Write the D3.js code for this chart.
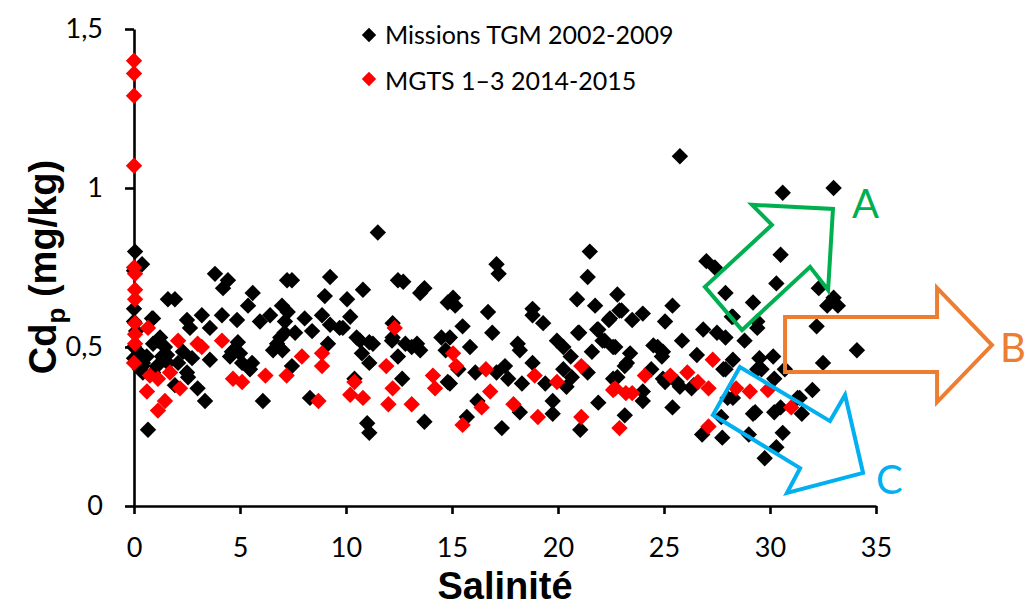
<!DOCTYPE html>
<html><head><meta charset="utf-8">
<script src="https://cdn.jsdelivr.net/npm/d3@7"></script>
<style>
html,body{margin:0;padding:0;background:#fff;}
svg{display:block;}
</style></head>
<body>
<svg id="chart" width="1032" height="606"></svg>
<script>
// ---- data ----
const xTicks = [0, 5, 10, 15, 20, 25, 30, 35];
const yTicks = [0, 0.5, 1, 1.5];
const yTickLabels = ["0", "0,5", "1", "1,5"];
const seriesNames = ["Missions TGM 2002-2009", "MGTS 1\u20133 2014-2015"];

// Missions TGM 2002-2009 : [salinité, Cdp]
const tgm = [
[0.05,0.80],[0.38,0.76],[0,0.74],[0,0.62],[0,0.58],[0,0.50],[0.28,0.48],[0.42,0.45],[0.28,0.43],[0,0.465],[0.1,0.55],[0.42,0.42],[0.6,0.47],[0.9,0.59],
[3.82,0.73],[4.43,0.71],[4.2,0.685],[1.6,0.65],[1.93,0.65],[0.85,0.59],[2.5,0.585],[3.2,0.60],[4.15,0.60],[5.6,0.67],[5.38,0.63],[6.98,0.63],[7.22,0.71],[4.86,0.585],[5.94,0.58],[6.42,0.60],[7.12,0.58],[2.64,0.56],[3.58,0.56],[1.23,0.53],[0.9,0.51],[1.46,0.50],[2.31,0.485],[2.74,0.465],[3.58,0.46],[4.62,0.485],[4.9,0.515],[5.1,0.45],[5.57,0.45],[6.75,0.51],[6.56,0.49],[1.08,0.44],[1.6,0.45],[2.5,0.42],[0.9,0.42],[3.35,0.33],[6.08,0.33],[0.66,0.24],[2.55,0.405],[1.93,0.38],[3.0,0.37],
[1.13,0.52],[1.32,0.47],[2.08,0.45],[1.56,0.475],[0.4,0.44],[4.53,0.47],[5.47,0.43],[5.0,0.48],[6.9,0.53],[7.0,0.49],
[11.5,0.86],[7.45,0.71],[9.25,0.72],[10.8,0.68],[12.45,0.71],[12.7,0.705],[13.7,0.685],[13.5,0.67],[14.8,0.64],[9.0,0.66],[10.05,0.65],[7.25,0.61],[8.05,0.59],[8.87,0.60],[10.2,0.595],[7.1,0.545],[7.6,0.545],[8.4,0.55],[9.25,0.57],[9.85,0.56],[10.5,0.53],[11.1,0.515],[9.15,0.51],[12.2,0.575],[12.2,0.53],[12.8,0.51],[13.35,0.51],[13.5,0.49],[14.5,0.53],[14.7,0.49],[10.75,0.48],[11.1,0.45],[12.45,0.47],[7.45,0.44],[10.4,0.40],[12.65,0.40],[14.8,0.39],[8.3,0.34],[11.0,0.26],[11.1,0.23],[13.7,0.265],
[9.7,0.56],[10.66,0.52],[11.27,0.51],[12.17,0.52],[13.1,0.50],
[17.1,0.76],[17.2,0.73],[21.5,0.80],[21.4,0.72],[15.05,0.655],[15.15,0.63],[18.8,0.62],[18.8,0.60],[19.3,0.575],[16.7,0.61],[20.9,0.65],[21.75,0.63],[22.45,0.59],[22.8,0.665],[15.5,0.565],[16.9,0.545],[20.95,0.545],[21.85,0.555],[22.1,0.52],[15.85,0.50],[18.1,0.51],[18.2,0.49],[19.95,0.52],[20.25,0.50],[20.6,0.47],[21.6,0.485],[22.6,0.50],[14.9,0.53],[16.1,0.42],[17.5,0.44],[17.65,0.40],[17.1,0.42],[18.3,0.385],[18.8,0.45],[19.4,0.385],[20.25,0.43],[20.65,0.405],[20.4,0.375],[21.4,0.42],[14.9,0.385],[16.2,0.33],[18.2,0.295],[19.75,0.33],[19.75,0.29],[21.9,0.325],[22.8,0.405],[17.35,0.245],[15.7,0.28],[21.05,0.24],[15.3,0.43],
[25.75,1.10],[30.6,0.985],[27.0,0.77],[27.4,0.75],[30.5,0.79],[27.9,0.67],[30.3,0.70],[29.2,0.64],[28.25,0.595],[29.4,0.58],[29.4,0.56],[28.8,0.52],[23.0,0.615],[24.0,0.605],[23.5,0.585],[25.4,0.63],[25.05,0.58],[25.85,0.52],[26.85,0.555],[27.5,0.545],[27.9,0.53],[22.7,0.50],[23.4,0.48],[24.5,0.505],[24.95,0.485],[23.15,0.44],[24.4,0.43],[26.55,0.475],[28.25,0.46],[27.9,0.43],[29.5,0.465],[30.15,0.47],[29.4,0.43],[24.95,0.40],[25.6,0.39],[26.3,0.37],[24.0,0.33],[25.4,0.31],[23.15,0.285],[28.25,0.34],[29.3,0.295],[30.2,0.295],[31.4,0.34],[31.5,0.29],[26.8,0.225],[27.75,0.215],[29.0,0.225],[30.6,0.23],[30.3,0.185],[29.75,0.15],
[33.0,1.00],[32.3,0.685],[33.0,0.655],[32.7,0.63],[33.2,0.63],[32.2,0.565],[34.1,0.49],[32.5,0.45],[32.0,0.365],[31.3,0.34],[30.7,0.43],[30.2,0.40],[29.6,0.43],[27.8,0.43],[23.25,0.45],[24.7,0.50],[24.9,0.47],[22.6,0.40],[24.0,0.36],[25.05,0.39],[25.75,0.375],[26.4,0.38],[28.0,0.34],[27.7,0.28],[29.2,0.29],[30.5,0.31],[28.2,0.595],[22.4,0.585],[22.9,0.615],[22.2,0.52],[21.9,0.555],[21.0,0.545]
];

// MGTS 1–3 2014-2015 : [salinité, Cdp]
const mgts = [
[0,1.40],[0,1.36],[0,1.29],[0,1.07],[0,0.75],[0.05,0.73],[0.05,0.68],[0.05,0.65],[0.05,0.575],[0.66,0.56],[0.05,0.54],[0.05,0.51],[0,0.45],[0.75,0.41],[1.13,0.40],[0.61,0.36],[1.46,0.33],[1.13,0.30],[1.7,0.42],[2.08,0.52],[2.17,0.37],[3.0,0.51],[3.2,0.50],[4.15,0.52],[4.67,0.40],[5.1,0.39],[6.2,0.41],[7.2,0.41],
[7.92,0.47],[8.87,0.48],[8.87,0.44],[12.3,0.56],[11.9,0.44],[10.4,0.39],[10.2,0.35],[10.8,0.34],[12.2,0.37],[12.0,0.32],[13.1,0.32],[14.1,0.41],[14.2,0.37],[8.7,0.33],[15.05,0.48],
[15.2,0.44],[16.6,0.43],[16.8,0.36],[16.4,0.31],[17.9,0.32],[18.9,0.41],[19.05,0.28],[19.95,0.39],[21.1,0.44],[21.1,0.28],[22.6,0.365],[15.5,0.255],[22.9,0.245],
[24.1,0.41],[25.3,0.41],[26.1,0.42],[26.6,0.39],[27.1,0.37],[27.3,0.46],[22.7,0.37],[23.2,0.355],[23.5,0.355],[27.1,0.25],[28.4,0.37],[29.05,0.36],[29.9,0.365],[31.0,0.31]
];

// annotation arrows (in data units) and their labels
const arrowA = [[29.15,0.947],[32.97,0.934],[32.74,0.679],[31.89,0.752],[28.68,0.553],[26.93,0.689],[30.09,0.884]];
const arrowB = [[30.71,0.594],[37.88,0.594],[37.88,0.686],[40.47,0.506],[37.88,0.327],[37.88,0.421],[30.71,0.421]];
const arrowC = [[27.31,0.286],[28.58,0.437],[32.83,0.267],[33.54,0.349],[34.39,0.104],[30.8,0.041],[31.42,0.119]];
const arrowLabels = [["A",33.87,0.905],["B",40.85,0.453],["C",35.0,0.038]];
const arrowColors = ["#00B050","#ED7D31","#00B0F0"];

// ---- drawing ----
const svg = d3.select("#chart");
const x = d3.scaleLinear().domain([0,35]).range([134,876]);
const y = d3.scaleLinear().domain([0,1.5]).range([506,29]);
const tickFont = "Lato, 'Open Sans', sans-serif";

const diamond = r => `M0,${-r}L${r},0L0,${r}L${-r},0Z`;

// axes
const xAxis = d3.axisBottom(x).tickValues(xTicks).tickSize(8).tickSizeOuter(0).tickPadding(24).tickFormat(d3.format("d"));
const yAxis = d3.axisLeft(y).tickValues(yTicks).tickSize(9).tickSizeOuter(0).tickPadding(22).tickFormat((d,i)=>yTickLabels[i]);

const gx = svg.append("g").attr("transform","translate(0,506)").call(xAxis);
const gy = svg.append("g").attr("transform","translate(134,0)").call(yAxis);
[gx,gy].forEach(g=>{
  g.select(".domain").attr("stroke","#000").attr("stroke-width",2.6);
  g.selectAll(".tick line").attr("stroke","#000").attr("stroke-width",2.6);
  g.selectAll(".tick text").attr("fill","#000").style("font-family",tickFont).style("font-size","27px");
});

// points
svg.append("g").selectAll("path").data(tgm).join("path")
  .attr("d", diamond(8.2))
  .attr("transform", d=>`translate(${x(d[0])},${y(d[1])})`)
  .attr("fill","#000");
svg.append("g").selectAll("path").data(mgts).join("path")
  .attr("d", diamond(8.2))
  .attr("transform", d=>`translate(${x(d[0])},${y(d[1])})`)
  .attr("fill","#FF0000");

// arrows
const line = d3.line().x(d=>x(d[0])).y(d=>y(d[1])).curve(d3.curveLinearClosed);
[arrowA,arrowB,arrowC].forEach((a,i)=>{
  svg.append("path").attr("d",line(a)).attr("fill","none")
    .attr("stroke",arrowColors[i]).attr("stroke-width",4).attr("stroke-linejoin","miter");
});
svg.append("g").selectAll("text").data(arrowLabels).join("text")
  .attr("x",d=>x(d[1])).attr("y",d=>y(d[2]))
  .attr("fill",(d,i)=>arrowColors[i])
  .style("font-family",tickFont).style("font-size","40px")
  .text(d=>d[0]);

// legend
const legend = svg.append("g");
const legendColors = ["#000","#FF0000"];
seriesNames.forEach((n,i)=>{
  legend.append("path").attr("d",diamond(7.2))
    .attr("transform",`translate(369,${35+i*44})`).attr("fill",legendColors[i]);
  legend.append("text").attr("x",385).attr("y",44+i*46)
    .style("font-family",tickFont).style("font-size","25px").attr("fill","#000").text(n);
});

// axis titles
svg.append("text").attr("x",505).attr("y",599).attr("text-anchor","middle")
  .style("font-family","'Liberation Sans', Arial, sans-serif").style("font-weight","bold").style("font-size","38px")
  .text("Salinit\u00e9");

const yt = svg.append("text").attr("transform","translate(56,267) rotate(-90)").attr("text-anchor","middle")
  .style("font-family","'Liberation Sans', Arial, sans-serif").style("font-weight","bold").style("font-size","38px");
yt.append("tspan").text("Cd");
yt.append("tspan").attr("dy",9).style("font-size","26px").text("p");
yt.append("tspan").attr("dy",-9).text(" (mg/kg)");
</script>
</body></html>
